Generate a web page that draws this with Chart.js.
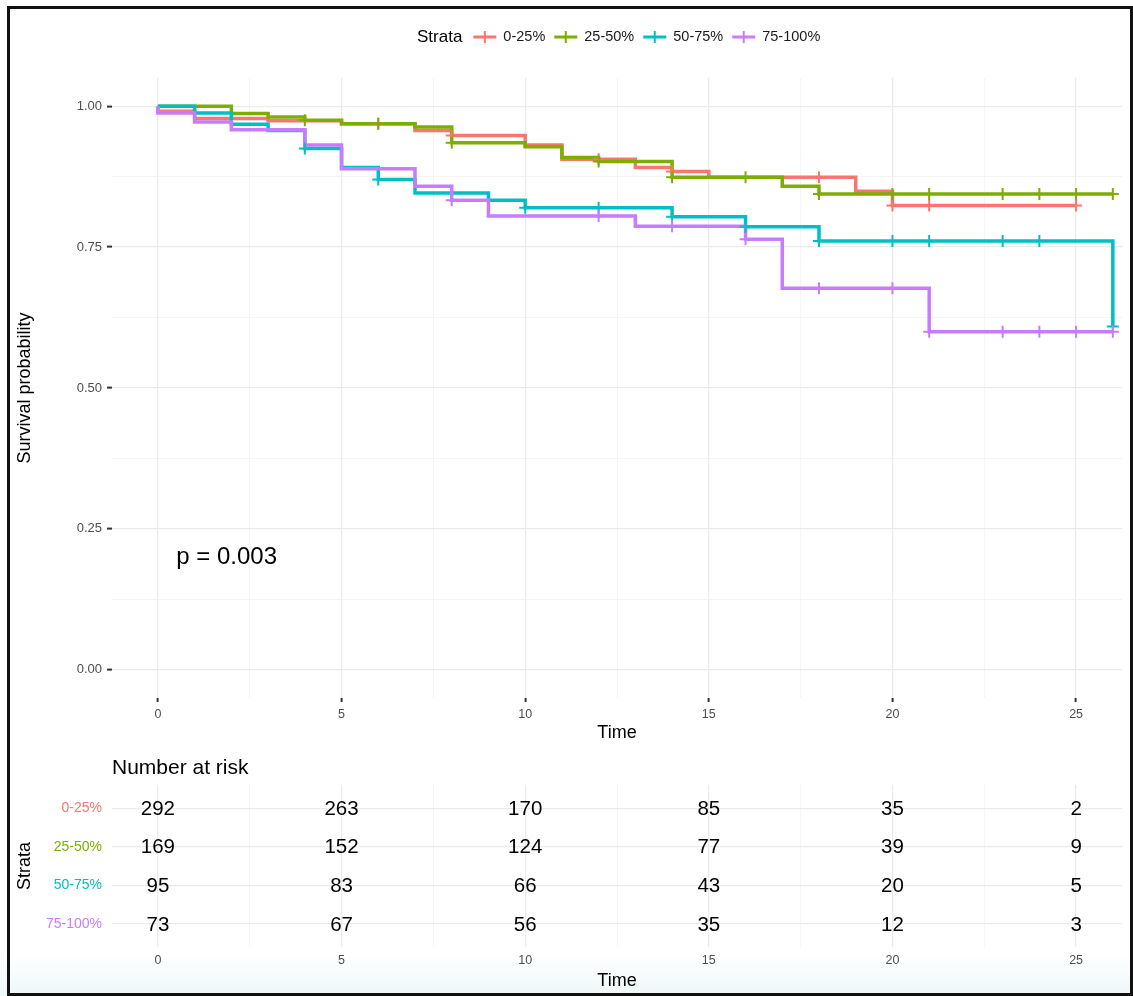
<!DOCTYPE html>
<html>
<head>
<meta charset="utf-8">
<script src="https://cdn.jsdelivr.net/npm/chart.js@4.4.1/dist/chart.umd.min.js"></script>
<style>
  html, body { margin: 0; padding: 0; background: #fff; }
  body { width: 1133px; height: 996px; position: relative; overflow: hidden; font-family: 'Liberation Sans', Arial, sans-serif; }
  #tint { position: absolute; left: 0; top: 955px; width: 1133px; height: 41px; background: linear-gradient(#ffffff, #eef7f8); }
  #main { position: absolute; left: 0; top: 0; }
  #risk { position: absolute; left: 0; top: 750px; }
  #frame { position: absolute; left: 7px; top: 6px; width: 1126px; height: 990px; box-sizing: border-box; border: 3px solid #111; pointer-events: none; }
</style>
</head>
<body>
<div id="tint"></div>
<canvas id="main" width="1133" height="750"></canvas>
<canvas id="risk" width="1133" height="246"></canvas>
<div id="frame"></div>
<script>
// ---------------- DATA ----------------
const strata = ['0-25%', '25-50%', '50-75%', '75-100%'];
const colors = ['#F8766D', '#7CAE00', '#00BFC4', '#C77CFF'];

// Kaplan-Meier step points (time, survival after that time)
const time_q1 = [0, 0, 1, 3, 5, 7, 8, 10, 11, 13, 14, 15, 19, 20, 25];
const surv_q1 = [1, 0.991, 0.978, 0.974, 0.969, 0.957, 0.948, 0.931, 0.906, 0.891, 0.884, 0.874, 0.849, 0.824, 0.824];
const cens_q1 = [6, 8, 12, 14, 18, 20, 21, 25];

const time_q2 = [0, 2, 3, 4, 5, 7, 8, 10, 11, 12, 14, 17, 18, 26];
const surv_q2 = [1, 0.987, 0.981, 0.975, 0.969, 0.963, 0.935, 0.928, 0.909, 0.902, 0.874, 0.858, 0.844, 0.844];
const cens_q2 = [4, 6, 8, 12, 14, 16, 18, 20, 21, 23, 24, 25, 26];

const time_q3 = [0, 1, 2, 3, 4, 5, 6, 7, 9, 10, 14, 16, 18, 26];
const surv_q3 = [1, 0.988, 0.968, 0.957, 0.925, 0.891, 0.870, 0.846, 0.833, 0.820, 0.804, 0.786, 0.761, 0.609];
const cens_q3 = [4, 6, 10, 12, 14, 16, 18, 20, 21, 23, 24, 26];

const time_q4 = [0, 0, 1, 2, 4, 5, 7, 8, 9, 13, 16, 17, 21, 26];
const surv_q4 = [1, 0.988, 0.972, 0.958, 0.931, 0.889, 0.858, 0.833, 0.805, 0.787, 0.764, 0.677, 0.600, 0.600];
const cens_q4 = [8, 12, 14, 16, 18, 20, 21, 23, 24, 25, 26];

const pValueText = 'p = 0.003';

// Number at risk table
const riskTimes = [0, 5, 10, 15, 20, 25];
const risk_q1 = [292, 263, 170, 85, 35, 2];
const risk_q2 = [169, 152, 124, 77, 39, 9];
const risk_q3 = [95, 83, 66, 43, 20, 5];
const risk_q4 = [73, 67, 56, 35, 12, 3];

// Axis ticks
const xMajorTicks = [0, 5, 10, 15, 20, 25];
const xMinorTicks = [2.5, 7.5, 12.5, 17.5, 22.5];
const yMajorTicks = [0, 0.25, 0.5, 0.75, 1];
const yMinorTicks = [0.125, 0.375, 0.625, 0.875];

// ---------------- BUILD ----------------
const FONT = "'Liberation Sans', Arial, sans-serif";
const times = [time_q1, time_q2, time_q3, time_q4];
const survs = [surv_q1, surv_q2, surv_q3, surv_q4];
const cens = [cens_q1, cens_q2, cens_q3, cens_q4];
const risks = [risk_q1, risk_q2, risk_q3, risk_q4];

function survAt(i, t) {
  let v = survs[i][0];
  for (let k = 0; k < times[i].length; k++) if (times[i][k] <= t) v = survs[i][k];
  return v;
}

const isMajor = (v, arr) => arr.some(a => Math.abs(a - v) < 1e-9);

const datasets = [];
strata.forEach((s, i) => {
  datasets.push({
    type: 'line', label: s,
    data: times[i].map((t, k) => ({ x: t, y: survs[i][k] })),
    borderColor: colors[i], borderWidth: 3.5, stepped: 'before',
    pointRadius: 0, fill: false, order: 20 - i, borderJoinStyle: 'miter'
  });
});
strata.forEach((s, i) => {
  datasets.push({
    type: 'scatter', label: s + ' censor',
    data: cens[i].map(t => ({ x: t, y: survAt(i, t) })),
    pointStyle: 'cross', pointRadius: 6, borderWidth: 2,
    borderColor: colors[i], backgroundColor: colors[i], order: 10 - i
  });
});

const gridColor = ctx => isMajor(ctx.tick ? ctx.tick.value : 0, ctx.scale.axis === 'x' ? xMajorTicks : yMajorTicks) ? '#ebebeb' : '#f3f3f3';
const gridWidth = ctx => isMajor(ctx.tick ? ctx.tick.value : 0, ctx.scale.axis === 'x' ? xMajorTicks : yMajorTicks) ? 1.2 : 0.8;

const mainPlugin = {
  id: 'mainExtras',
  afterDraw(chart) {
    const ctx = chart.ctx;
    ctx.save();
    // p-value
    ctx.fillStyle = '#000';
    ctx.font = '24px ' + FONT;
    ctx.textAlign = 'left'; ctx.textBaseline = 'middle';
    ctx.fillText(pValueText, chart.scales.x.getPixelForValue(0.5), chart.scales.y.getPixelForValue(0.199));
    // legend
    const cy = 37;
    ctx.font = '17px ' + FONT;
    let x = 417;
    ctx.fillText('Strata', x, cy);
    x += ctx.measureText('Strata').width + 11;
    ctx.font = '14.5px ' + FONT;
    strata.forEach((s, i) => {
      ctx.strokeStyle = colors[i];
      ctx.lineWidth = 3;
      ctx.beginPath(); ctx.moveTo(x, cy); ctx.lineTo(x + 23, cy); ctx.stroke();
      ctx.lineWidth = 2;
      ctx.beginPath(); ctx.moveTo(x + 11.5, cy - 6); ctx.lineTo(x + 11.5, cy + 6); ctx.stroke();
      x += 30;
      ctx.fillStyle = '#1a1a1a';
      ctx.fillText(s, x, cy);
      x += ctx.measureText(s).width + 9;
    });
    ctx.restore();
  }
};

new Chart(document.getElementById('main'), {
  type: 'scatter',
  data: { datasets },
  options: {
    responsive: false, animation: false, devicePixelRatio: 1,
    layout: { padding: { left: 0, right: 11, top: 78, bottom: 0 } },
    plugins: { legend: { display: false }, tooltip: { enabled: false } },
    scales: {
      x: {
        type: 'linear', min: -1.25, max: 26.25,
        afterBuildTicks: s => { s.ticks = xMajorTicks.concat(xMinorTicks).sort((a, b) => a - b).map(v => ({ value: v })); },
        afterFit: s => { s.height = 52; },
        ticks: {
          autoSkip: false, maxRotation: 0, padding: 5,
          font: { family: FONT, size: 12.5 }, color: '#4d4d4d',
          callback: v => isMajor(v, xMajorTicks) ? String(v) : ''
        },
        grid: {
          color: gridColor, lineWidth: gridWidth, drawTicks: true, tickLength: 4, tickWidth: 2,
          tickColor: ctx => isMajor(ctx.tick.value, xMajorTicks) ? '#333' : 'rgba(0,0,0,0)'
        },
        border: { display: false },
        title: { display: true, text: 'Time', font: { family: FONT, size: 18 }, color: '#000', padding: { top: 0, bottom: 6 } }
      },
      y: {
        type: 'linear', min: -0.05, max: 1.05,
        afterBuildTicks: s => { s.ticks = yMajorTicks.concat(yMinorTicks).sort((a, b) => a - b).map(v => ({ value: v })); },
        afterFit: s => { s.width = 112; },
        ticks: {
          autoSkip: false, padding: 5,
          font: { family: FONT, size: 13 }, color: '#4d4d4d',
          callback: v => isMajor(v, yMajorTicks) ? v.toFixed(2) : ''
        },
        grid: {
          color: gridColor, lineWidth: gridWidth, drawTicks: true, tickLength: 5, tickWidth: 2,
          tickColor: ctx => isMajor(ctx.tick.value, yMajorTicks) ? '#333' : 'rgba(0,0,0,0)'
        },
        border: { display: false },
        title: { display: true, text: 'Survival probability', font: { family: FONT, size: 18 }, color: '#000', padding: { top: 14, bottom: 0 } }
      }
    }
  },
  plugins: [mainPlugin]
});

// ---------------- RISK TABLE ----------------
const riskDatasets = strata.map((s, i) => ({
  type: 'scatter', label: s,
  data: riskTimes.map((t, k) => ({ x: t, y: i + 1, n: risks[i][k] })),
  pointRadius: 0, borderWidth: 0
}));

const riskPlugin = {
  id: 'riskText',
  afterDatasetsDraw(chart) {
    const ctx = chart.ctx;
    ctx.save();
    ctx.fillStyle = '#000';
    ctx.font = '20.5px ' + FONT;
    ctx.textAlign = 'center'; ctx.textBaseline = 'middle';
    chart.data.datasets.forEach((ds, i) => {
      const meta = chart.getDatasetMeta(i);
      meta.data.forEach((el, k) => {
        ctx.fillText(String(ds.data[k].n), el.x, el.y + 1);
      });
    });
    ctx.font = '21px ' + FONT;
    ctx.textAlign = 'left';
    ctx.fillText('Number at risk', 112, 18);
    ctx.restore();
  }
};

new Chart(document.getElementById('risk'), {
  type: 'scatter',
  data: { datasets: riskDatasets },
  options: {
    responsive: false, animation: false, devicePixelRatio: 1,
    layout: { padding: { left: 0, right: 11, top: 35, bottom: 0 } },
    plugins: { legend: { display: false }, tooltip: { enabled: false } },
    scales: {
      x: {
        type: 'linear', min: -1.25, max: 26.25,
        afterBuildTicks: s => { s.ticks = xMajorTicks.concat(xMinorTicks).sort((a, b) => a - b).map(v => ({ value: v })); },
        afterFit: s => { s.height = 49; },
        ticks: {
          autoSkip: false, maxRotation: 0, padding: 6,
          font: { family: FONT, size: 12.5 }, color: '#4d4d4d',
          callback: v => isMajor(v, xMajorTicks) ? String(v) : ''
        },
        grid: { color: gridColor, lineWidth: gridWidth, drawTicks: false },
        border: { display: false },
        title: { display: true, text: 'Time', font: { family: FONT, size: 18 }, color: '#000', padding: { top: 0, bottom: 4 } }
      },
      y: {
        type: 'linear', min: 0.4, max: 4.6, reverse: true,
        afterBuildTicks: s => { s.ticks = [1, 2, 3, 4].map(v => ({ value: v })); },
        afterFit: s => { s.width = 112; },
        ticks: {
          autoSkip: false, padding: 10,
          font: { family: FONT, size: 14 },
          color: ctx => colors[Math.round(ctx.tick.value) - 1],
          callback: v => strata[Math.round(v) - 1]
        },
        grid: { color: '#ebebeb', lineWidth: 1.2, drawTicks: false },
        border: { display: false },
        title: { display: true, text: 'Strata', font: { family: FONT, size: 18 }, color: '#000', padding: { top: 14, bottom: 0 } }
      }
    }
  },
  plugins: [riskPlugin]
});
</script>
</body>
</html>
